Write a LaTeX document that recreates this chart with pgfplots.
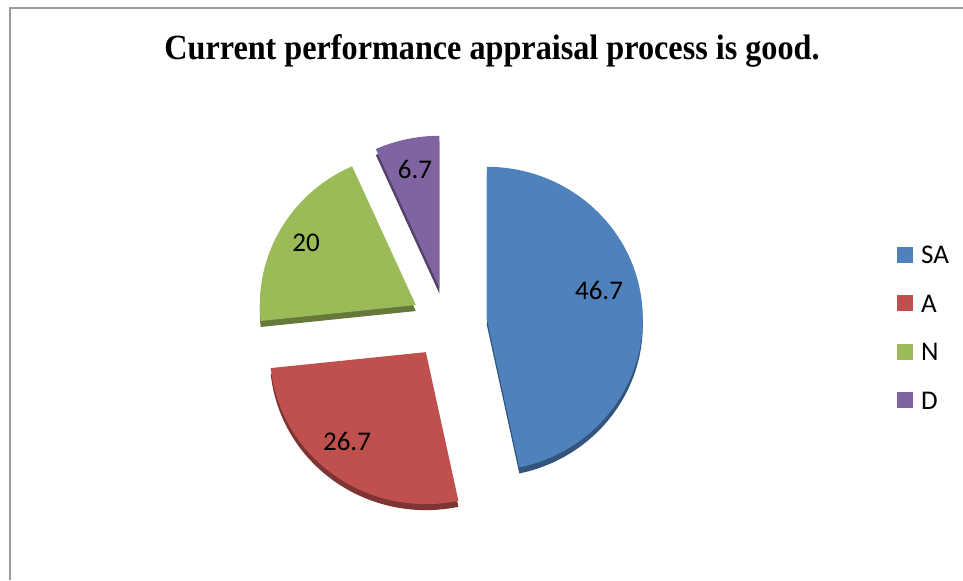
\documentclass[border=0pt]{standalone}
\usepackage{fontspec}
\setmainfont{Carlito}
\newfontfamily\titlefont{Liberation Serif}
\usepackage{pgfplots}
\pgfplotsset{compat=1.18}

\definecolor{cSA}{HTML}{4F81BD}
\definecolor{cA}{HTML}{C0504D}
\definecolor{cN}{HTML}{9BBB59}
\definecolor{cD}{HTML}{8064A2}
\definecolor{frame}{RGB}{155,155,155}

% data (percent)
\def\vSA{46.7}
\def\vA{26.7}
\def\vN{20}
\def\vD{6.7}
\pgfmathsetmacro\tot{\vSA+\vA+\vN+\vD}
\pgfmathsetmacro\aSA{90}
\pgfmathsetmacro\bSA{\aSA-360*(\vSA/\tot)}
\pgfmathsetmacro\bA{\bSA-360*(\vA/\tot)}
\pgfmathsetmacro\bN{\bA-360*(\vN/\tot)}
\pgfmathsetmacro\bD{\bN-360*(\vD/\tot)}

% #1 start angle, #2 end angle, #3 colour, #4 explode distance
\newcommand\slice[4]{%
  \fill[#3!65!black] (axis cs:447,257) ++({(#1+#2)/2}:#4) ++(0pt,-3pt)
     -- ++(#1:78pt and 76pt) arc[start angle=#1, end angle=#2, x radius=78pt, y radius=76pt] -- cycle;
  \fill[#3] (axis cs:447,257) ++({(#1+#2)/2}:#4)
     -- ++(#1:78pt and 76pt) arc[start angle=#1, end angle=#2, x radius=78pt, y radius=76pt] -- cycle;
}

\begin{document}
\begin{tikzpicture}
\begin{axis}[
  x=0.5pt, y=0.5pt,
  xmin=0, xmax=963, ymin=0, ymax=580,
  hide axis, clip=false,
  legend style={draw=none, fill=none, at={(axis cs:897,335)}, anchor=north west,
    font=\fontsize{13.5}{16}\selectfont, row sep=15.3pt, inner sep=0pt, column sep=4pt,
    nodes={inner sep=0pt, text height=9pt, text depth=0pt}},
  legend cell align=left,
]
\draw[frame, line width=0.8pt] (axis cs:10,0) -- (axis cs:10,572) -- (axis cs:963,572);

\slice{\aSA}{\bSA}{cSA}{20pt}
\slice{\bSA}{\bA}{cA}{18pt}
\slice{\bA}{\bN}{cN}{18pt}
\slice{\bN}{\bD}{cD}{18pt}

\node[font=\fontsize{13.5}{16}\selectfont] at (axis cs:599,290) {46.7};
\node[font=\fontsize{13.5}{16}\selectfont] at (axis cs:347,139) {26.7};
\node[font=\fontsize{13.5}{16}\selectfont] at (axis cs:306,337) {20};
\node[font=\fontsize{13.5}{16}\selectfont] at (axis cs:415,411) {6.7};

\node[anchor=base, font=\titlefont\bfseries\fontsize{16.1}{20}\selectfont] at (axis cs:492,521) {\scalebox{1}[1.1]{Current performance appraisal process is good.}};

\addlegendimage{legend image code/.code={\fill[cSA] (0pt,-3.75pt) rectangle (7.5pt,3.75pt);}}
\addlegendentry{SA}
\addlegendimage{legend image code/.code={\fill[cA] (0pt,-3.75pt) rectangle (7.5pt,3.75pt);}}
\addlegendentry{A}
\addlegendimage{legend image code/.code={\fill[cN] (0pt,-3.75pt) rectangle (7.5pt,3.75pt);}}
\addlegendentry{N}
\addlegendimage{legend image code/.code={\fill[cD] (0pt,-3.75pt) rectangle (7.5pt,3.75pt);}}
\addlegendentry{D}
\end{axis}
\pgfresetboundingbox
\useasboundingbox (0,0) rectangle (481.5pt,290pt);
\end{tikzpicture}
\end{document}
